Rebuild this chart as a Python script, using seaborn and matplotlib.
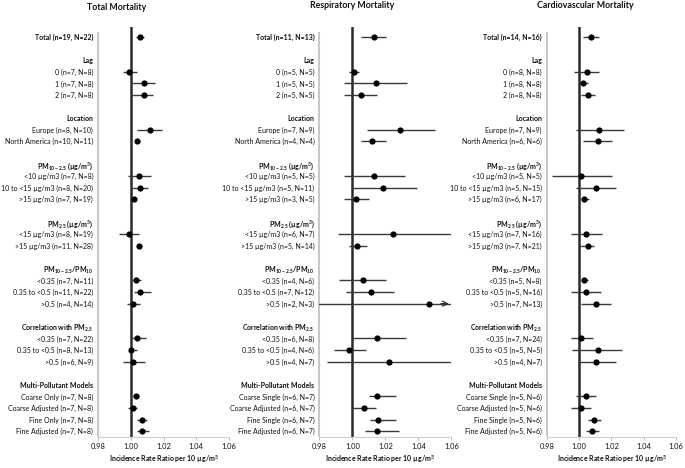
import numpy as np
import pandas as pd
import matplotlib
matplotlib.use("Agg")
import matplotlib.pyplot as plt
import seaborn as sns

sns.set_theme(style="white")
plt.rcParams['font.family'] = ['Lato', 'DejaVu Sans']
plt.rcParams['mathtext.default'] = 'regular'

# ---- data ----
titles = ["Total Mortality", "Respiratory Mortality", "Cardiovascular Mortality"]
groups = ["Lag", "Location", "PM$_{10-2.5}$ (µg/m$^3$)", "PM$_{2.5}$ (µg/m$^3$)",
          "PM$_{10-2.5}$/PM$_{10}$", "Correlation with PM$_{2.5}$", "Multi-Pollutant Models"]
group_sizes = [3, 2, 3, 2, 3, 3, 4]

labels_total = ["Total (n=19, N=22)",
                "0 (n=7, N=8)", "1 (n=7, N=8)", "2 (n=7, N=8)",
                "Europe (n=8, N=10)", "North America (n=10, N=11)",
                "<10 µg/m3 (n=7, N=8)", "10 to <15 µg/m3 (n=8, N=20)", ">15 µg/m3 (n=7, N=19)",
                "<15 µg/m3 (n=8, N=19)", ">15 µg/m3 (n=11, N=28)",
                "<0.35 (n=7, N=11)", "0.35 to <0.5 (n=11, N=22)", ">0.5 (n=4, N=14)",
                "<0.35 (n=7, N=22)", "0.35 to <0.5 (n=8, N=13)", ">0.5 (n=6, N=9)",
                "Coarse Only (n=7, N=8)", "Coarse Adjusted (n=7, N=8)",
                "Fine Only (n=7, N=8)", "Fine Adjusted (n=7, N=8)"]
est_total = [1.0057, 0.9992, 1.0081, 1.0080, 1.0117, 1.0040, 1.0051, 1.0057, 1.0020,
             0.9990, 1.0051, 1.0030, 1.0057, 1.0016, 1.0036, 1.0004, 1.0016,
             1.0030, 1.0016, 1.0071, 1.0071]
lo_total = [1.0030, 0.9950, 1.0006, 1.0006, 1.0040, 1.0027, 0.9986, 1.0010, 1.0006,
            0.9930, 1.0036, 1.0010, 1.0020, 0.9980, 1.0010, 0.9990, 0.9950,
            1.0016, 0.9986, 1.0040, 1.0036]
hi_total = [1.0081, 1.0040, 1.0148, 1.0138, 1.0192, 1.0055, 1.0121, 1.0107, 1.0035,
            1.0051, 1.0067, 1.0060, 1.0121, 1.0057, 1.0091, 1.0040, 1.0090,
            1.0050, 1.0040, 1.0097, 1.0111]

labels_resp = ["Total (n=11, N=13)",
               "0 (n=5, N=5)", "1 (n=5, N=5)", "2 (n=5, N=5)",
               "Europe (n=7, N=9)", "North America (n=4, N=4)",
               "<10 µg/m3 (n=5, N=5)", "10 to <15 µg/m3 (n=5, N=11)", ">15 µg/m3 (n=3, N=5)",
               "<15 µg/m3 (n=6, N=7)", ">15 µg/m3 (n=5, N=14)",
               "<0.35 (n=4, N=6)", "0.35 to <0.5 (n=7, N=12)", ">0.5 (n=2, N=3)",
               "<0.35 (n=6, N=8)", "0.35 to <0.5 (n=4, N=6)", ">0.5 (n=4, N=7)",
               "Coarse Single (n=6, N=7)", "Coarse Adjusted (n=6, N=7)",
               "Fine Single (n=6, N=7)", "Fine Adjusted (n=6, N=7)"]
est_resp = [1.0131, 1.0010, 1.0141, 1.0053, 1.0291, 1.0121, 1.0131, 1.0188, 1.0022,
            1.0248, 1.0030, 1.0063, 1.0111, 1.0467, 1.0152, 0.9980, 1.0222,
            1.0152, 1.0071, 1.0158, 1.0152]
lo_resp = [1.0053, 0.9982, 0.9952, 0.9952, 1.0091, 1.0053, 0.9952, 1.0000, 0.9952,
           0.9911, 0.9982, 0.9921, 0.9962, 0.9700, 1.0000, 0.9891, 0.9848,
           1.0101, 1.0000, 1.0107, 1.0077]
hi_resp = [1.0202, 1.0042, 1.0329, 1.0150, 1.0501, 1.0202, 1.0319, 1.0390, 1.0103,
           1.0610, 1.0091, 1.0202, 1.0253, 1.0800, 1.0323, 1.0083, 1.0650,
           1.0263, 1.0141, 1.0263, 1.0285]

labels_cvd = ["Total (n=14, N=16)",
              "0 (n=8, N=8)", "1 (n=8, N=8)", "2 (n=8, N=8)",
              "Europe (n=7, N=9)", "North America (n=6, N=6)",
              "<10 µg/m3 (n=5, N=5)", "10 to <15 µg/m3 (n=5, N=15)", ">15 µg/m3 (n=6, N=17)",
              "<15 µg/m3 (n=7, N=16)", ">15 µg/m3 (n=7, N=21)",
              "<0.35 (n=5, N=8)", "0.35 to <0.5 (n=5, N=16)", ">0.5 (n=7, N=13)",
              "<0.35 (n=7, N=24)", "0.35 to <0.5 (n=5, N=5)", ">0.5 (n=4, N=7)",
              "Coarse Single (n=5, N=6)", "Coarse Adjusted (n=5, N=6)",
              "Fine Single (n=5, N=6)", "Fine Adjusted (n=5, N=6)"]
est_cvd = [1.0074, 1.0047, 1.0023, 1.0054, 1.0124, 1.0116, 1.0012, 1.0105, 1.0031,
           1.0043, 1.0054, 1.0033, 1.0043, 1.0105, 1.0012, 1.0116, 1.0105,
           1.0043, 1.0012, 1.0093, 1.0083]
lo_cvd = [1.0027, 0.9971, 1.0006, 1.0012, 0.9981, 1.0027, 0.9831, 0.9981, 1.0012,
          0.9950, 1.0006, 1.0012, 0.9950, 1.0012, 0.9948, 0.9959, 0.9996,
          0.9981, 0.9948, 1.0054, 1.0043]
hi_cvd = [1.0126, 1.0126, 1.0058, 1.0099, 1.0281, 1.0206, 1.0206, 1.0229, 1.0064,
          1.0144, 1.0095, 1.0058, 1.0136, 1.0196, 1.0085, 1.0268, 1.0229,
          1.0105, 1.0072, 1.0136, 1.0126]

panels = [(labels_total, est_total, lo_total, hi_total),
          (labels_resp, est_resp, lo_resp, hi_resp),
          (labels_cvd, est_cvd, lo_cvd, hi_cvd)]

xticks = [0.98, 1.00, 1.02, 1.04, 1.06]
xlabel = "Incidence Rate Ratio per 10 µg/m$^3$"

# ---- row layout: total, then (blank, header, items) per group ----
item_rows = [0]
header_rows = []
r = 0
for size in group_sizes:
    r += 2
    header_rows.append(r)
    for k in range(size):
        r += 1
        item_rows.append(r)
n_rows = r

W, H = 685, 468
fig = plt.figure(figsize=(W / 100, H / 100), dpi=100)

# axes placement in pixels: left, right, and title / xlabel centres
boxes = [(98, 229, 117, 8, 164), (319.3, 451.3, 352, 5, 380), (546.7, 676, 585, 6, 612)]
top_px, bot_px = 27, 437
fs = 5.0

for (labels, est, lo, hi), title, (x0, x1, tx, ty, lx) in zip(panels, titles, boxes):
    ax = fig.add_axes([x0 / W, 1 - bot_px / H, (x1 - x0) / W, (bot_px - top_px) / H])
    df = pd.DataFrame({"label": labels, "est": est, "lo": lo, "hi": hi, "row": item_rows})

    ax.set_xlim(0.98, 1.06)
    ax.set_ylim(n_rows + 0.5, -0.86)

    ax.axvline(1.0, color="#2b2b2b", lw=1.8, zorder=1)
    ax.vlines(0.98, -0.43, n_rows + 0.5, color="#c8c8c8", lw=1.5, clip_on=False, zorder=1)

    ax.hlines(df["row"], df["lo"], df["hi"], color="#3a3a3a", lw=1.0, zorder=2)
    sns.scatterplot(data=df, x="est", y="row", color="black", s=20,
                    edgecolor="black", linewidth=0, zorder=3, ax=ax, legend=False)

    # arrow for intervals running past the axis
    for _, rw in df[df["hi"] > 1.07].iterrows():
        ax.annotate("", xy=(1.0602, rw["row"]), xytext=(1.052, rw["row"]),
                    arrowprops=dict(arrowstyle="->", color="#2b2b2b", lw=0.9,
                                    mutation_scale=9),
                    annotation_clip=False, zorder=4)

    ticks = item_rows + header_rows
    ticklabels = labels + groups
    ax.set_yticks(ticks)
    ax.set_yticklabels(ticklabels, fontsize=fs, color="#111111")
    for tl, t in zip(ax.get_yticklabels(), ticks):
        if t in header_rows or t == 0:
            tl.set_fontweight("bold")
    ax.tick_params(axis="y", length=0, pad=3.5)

    ax.set_xticks(xticks)
    ax.set_xticklabels([f"{v:.2f}" for v in xticks], fontsize=5.4, color="#111111")
    ax.tick_params(axis="x", direction="out", length=2.5, width=0.6,
                   color="#b0b0b0", pad=2, bottom=True)
    for s in ["top", "right", "left"]:
        ax.spines[s].set_visible(False)
    ax.spines["bottom"].set_color("#d0d0d0")
    ax.spines["bottom"].set_linewidth(0.8)
    ax.set_xlabel("")
    ax.set_ylabel("")

    fig.text(tx / W, 1 - ty / H, title, ha="center", va="center",
             fontsize=6.3, fontweight="bold", color="#111111")
    fig.text(lx / W, 1 - 459 / H, xlabel, ha="center", va="center",
             fontsize=fs, fontweight="bold", color="#111111")

fig.savefig("out.png", dpi=100)
